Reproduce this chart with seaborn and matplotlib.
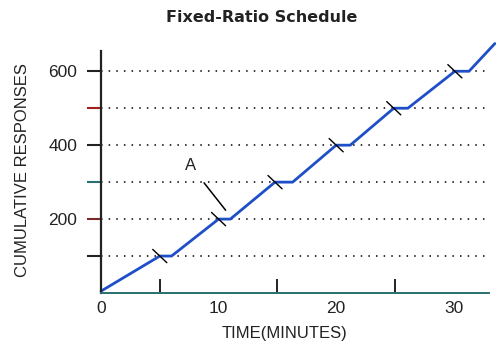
import matplotlib
matplotlib.use("Agg")
import matplotlib.pyplot as plt
import seaborn as sns
import pandas as pd
import numpy as np

# cumulative record (minutes, responses)
time_min = [0, 5, 6, 10, 11, 14.8, 16.3, 20, 21.2, 24.9, 26.1, 30.1, 31.3, 33.5]
responses = [5, 100, 100, 200, 200, 300, 300, 400, 400, 500, 500, 600, 600, 675]
# reinforcement points (hatch marks)
reinf_time = [5, 10, 14.8, 20, 24.9, 30.1]
reinf_resp = [100, 200, 300, 400, 500, 600]
grid_levels = [100, 200, 300, 400, 500, 600]
ytick_colors = ["#222222", "#7a2a2a", "#2a6f6f", "#222222", "#a02020", "#222222"]
ytick_major = [200, 400, 600]
xtick_major = [0, 10, 20, 30]
xtick_inner = [5, 10, 15, 20, 25, 30]

sns.set_theme(style="white")
plt.rcParams['font.family'] = ['Liberation Sans', 'DejaVu Sans']

fig = plt.figure(figsize=(4.96, 3.42), dpi=100)
ax_w = (489 - 101)
ax = fig.add_axes([101/496, (342-293)/342, ax_w/496, (293-38)/342])

df = pd.DataFrame({"t": time_min, "r": responses})
sns.lineplot(data=df, x="t", y="r", ax=ax, color="#1f4fc8", lw=2.0,
             sort=False, estimator=None)
for l in ax.lines:
    l.set_clip_on(False)

for lev in grid_levels:
    ax.axhline(lev, color="black", ls=(0, (1, 4)), lw=1.1, zorder=0)

# outward y ticks, individually coloured as in the scan
ax.hlines(grid_levels, -14/ax_w, 0, transform=ax.get_yaxis_transform(),
          colors=ytick_colors, lw=1.5, clip_on=False)

# hatch marks at reinforcement
dx, dy = 0.6, 18
for t, r in zip(reinf_time, reinf_resp):
    ax.plot([t - dx, t + dx], [r + dy, r - dy], color="black", lw=1.0, zorder=3)

# annotation A
ax.annotate("A", xy=(10.6, 224), xytext=(7.6, 345), fontsize=12,
            ha="center", va="center", color="#222222",
            arrowprops=dict(arrowstyle="-", color="black", lw=1.1,
                            shrinkA=6, shrinkB=0))

ax.set_xlim(0, 33)
ax.set_ylim(0, 690)
ax.spines['left'].set_bounds(0, 655)
ax.spines['top'].set_visible(False)
ax.spines['right'].set_visible(False)
ax.spines['left'].set_color("#222222")
ax.spines['bottom'].set_color("#2a6f6f")
ax.spines['left'].set_linewidth(1.6)
ax.spines['bottom'].set_linewidth(1.4)

ax.set_yticks(ytick_major)
ax.set_yticklabels([str(v) for v in ytick_major], fontsize=12.5, color="#222222")
ax.tick_params(axis="y", which="major", left=True, length=0, pad=17)

ax.set_xticks(xtick_major)
ax.set_xticklabels([str(v) for v in xtick_major], fontsize=12.5, color="#222222")
ax.set_xticks(xtick_inner, minor=True)
ax.tick_params(axis="x", which="major", bottom=True, length=0, pad=6)
ax.tick_params(axis="x", which="minor", bottom=True, direction="in", length=10,
               width=1.4, color="#222222")

ax.set_xlabel("TIME(MINUTES)", fontsize=12, color="#222222")
ax.xaxis.set_label_coords((285-101)/ax_w, -0.13)
ax.set_ylabel("CUMULATIVE RESPONSES", fontsize=12, color="#222222")
ax.yaxis.set_label_coords(-(101-30)/ax_w, (293-170)/255)

fig.text(262/496, 1 - 18/342, "Fixed-Ratio Schedule", ha="center", va="center",
         fontsize=11.5, fontweight="bold", color="#222222",
         family=["DejaVu Sans"])

fig.savefig("out.png", dpi=100)
